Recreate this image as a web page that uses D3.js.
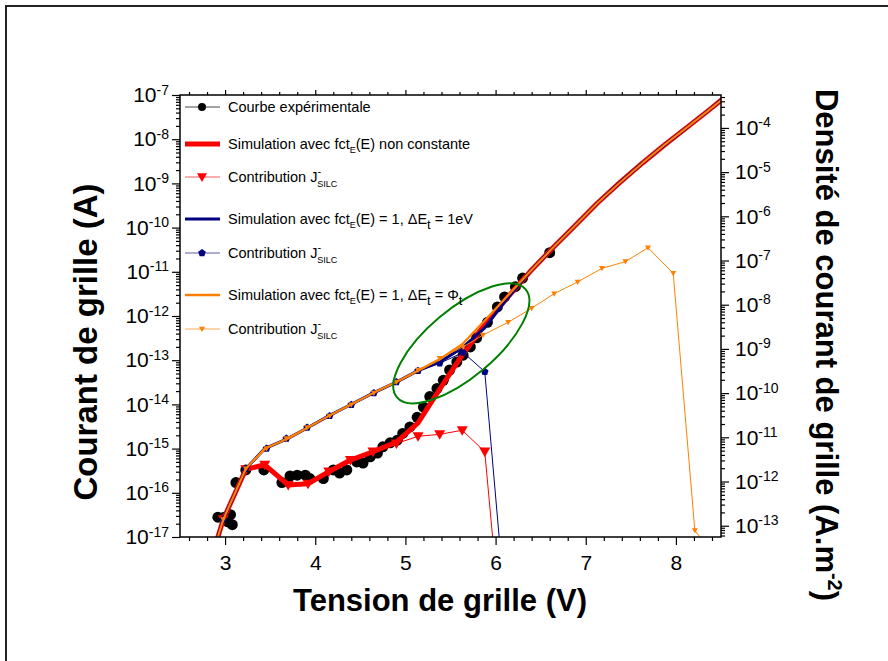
<!DOCTYPE html>
<html>
<head>
<meta charset="utf-8">
<script src="https://cdn.jsdelivr.net/npm/d3@7"></script>
<style>
    body { margin: 0; background: #fff; }
    text { font-family: "Liberation Sans", Arial, sans-serif; fill: #000; }
</style>
</head>
<body>
<svg id="chart" width="888" height="661"></svg>
<script>
// ---- data (V, A) ----
var voltsExp = [2.92, 2.99, 3.03, 3.06, 3.08, 3.12, 3.23, 3.43, 3.63, 3.72, 3.80, 3.89, 3.94, 4.09, 4.20, 4.27,
    4.35, 4.46, 4.53, 4.61, 4.69, 4.75, 4.83, 4.91, 4.97, 5.05, 5.13, 5.20, 5.27, 5.35, 5.42, 5.49, 5.57, 5.64,
    5.72, 5.79, 5.91, 6.02, 6.10, 6.22, 6.30, 6.60]
var currentExp = [2.8e-17, 2.8e-17, 2.2e-17, 3.2e-17, 1.9e-17, 1.7e-16, 3.3e-16, 3.3e-16, 1.7e-16, 2.4e-16, 2.5e-16,
    2.5e-16, 2.1e-16, 2.1e-16, 3.3e-16, 2.8e-16, 3.3e-16, 5.0e-16, 4.7e-16, 6.5e-16, 7.9e-16, 1.1e-15, 1.35e-15,
    1.55e-15, 2.2e-15, 3.1e-15, 5.1e-15, 8.7e-15, 1.5e-14, 2.3e-14, 3.5e-14, 6.0e-14, 9.1e-14, 1.3e-13, 2.0e-13,
    3.2e-13, 7.2e-13, 1.6e-12, 2.7e-12, 4.6e-12, 7.2e-12, 2.7e-11]

var voltsSim = [2.74, 2.98, 3.23, 3.44, 3.70, 3.92, 4.15, 4.39, 4.64, 4.90, 5.14, 5.38, 5.63, 5.88, 6.13, 6.38,
    6.63, 6.88, 7.13, 7.38, 7.63, 7.88, 8.13, 8.38, 8.62]
var currentSimRed = [6.3e-19, 2.5e-17, 3.4e-16, 4.3e-16, 1.5e-16, 1.6e-16, 3.0e-16, 5.5e-16, 8.5e-16, 1.4e-15,
    3.8e-15, 2.2e-14, 1.3e-13, 6.5e-13, 2.6e-12, 1.0e-11, 3.4e-11, 1.1e-10, 3.6e-10, 1.05e-9, 2.9e-9, 7.6e-9,
    1.9e-8, 4.8e-8, 1.2e-7]
var currentSimBlue = [6.3e-19, 2.5e-17, 3.5e-16, 1.0e-15, 1.7e-15, 3.0e-15, 5.5e-15, 9.8e-15, 1.8e-14, 3.2e-14,
    5.8e-14, 9.1e-14, 1.9e-13, 5.4e-13, 2.5e-12, 1.0e-11, 3.4e-11, 1.1e-10, 3.6e-10, 1.05e-9, 2.9e-9, 7.6e-9,
    1.9e-8, 4.8e-8, 1.2e-7]
var currentSimOrange = [6.3e-19, 2.5e-17, 3.5e-16, 1.0e-15, 1.7e-15, 3.0e-15, 5.5e-15, 9.8e-15, 1.8e-14, 3.2e-14,
    5.8e-14, 1.05e-13, 2.3e-13, 7.9e-13, 2.8e-12, 1.0e-11, 3.4e-11, 1.1e-10, 3.6e-10, 1.05e-9, 2.9e-9, 7.6e-9,
    1.9e-8, 4.8e-8, 1.2e-7]

var voltsContRed = [2.74, 2.98, 3.23, 3.44, 3.70, 3.92, 4.15, 4.39, 4.64, 4.90, 5.14, 5.38, 5.63, 5.88, 6.12]
var currentContRed = [6.3e-19, 2.5e-17, 3.4e-16, 4.3e-16, 1.5e-16, 1.6e-16, 3.0e-16, 5.5e-16, 8.5e-16, 1.3e-15,
    1.9e-15, 2.1e-15, 2.6e-15, 8.5e-16, 4e-21]

var voltsContBlue = [2.74, 2.98, 3.23, 3.46, 3.68, 3.91, 4.16, 4.40, 4.65, 4.90, 5.14, 5.38, 5.64, 5.88, 6.12]
var currentContBlue = [6.3e-19, 2.5e-17, 3.5e-16, 1.0e-15, 1.7e-15, 3.0e-15, 5.5e-15, 9.8e-15, 1.8e-14, 3.2e-14,
    5.8e-14, 8.5e-14, 1.5e-13, 5.5e-14, 1.3e-19]

var voltsContOrange = [2.74, 2.98, 3.23, 3.46, 3.68, 3.91, 4.16, 4.40, 4.65, 4.90, 5.14, 5.38, 5.64, 5.86, 6.14,
    6.40, 6.65, 6.91, 7.18, 7.44, 7.69, 7.97, 8.21, 8.45]
var currentContOrange = [6.3e-19, 2.5e-17, 3.5e-16, 1.0e-15, 1.7e-15, 3.0e-15, 5.5e-15, 9.8e-15, 1.8e-14, 3.2e-14,
    6.0e-14, 1.1e-13, 2.0e-13, 3.7e-13, 7.2e-13, 1.5e-12, 3.2e-12, 5.9e-12, 1.2e-11, 1.7e-11, 3.5e-11, 9.3e-12,
    1.4e-17, 3.3e-18]

// axes
var xTicks = [3, 4, 5, 6, 7, 8]
var yLeftExponents = [-17, -16, -15, -14, -13, -12, -11, -10, -9, -8, -7]
var yRightExponents = [-13, -12, -11, -10, -9, -8, -7, -6, -5, -4]
var deviceArea = 1.8e-4   // A -> A.m-2 for the right axis

// annotation ellipse centre (V, A)
var ellipseCentre = [5.62, 2.4e-13]

var legendLabels = [
    "Courbe expérimentale",
    "Simulation avec fct_E(E) non constante",
    "Contribution J-_SILC",
    "Simulation avec fct_E(E) = 1, ΔE_t = 1eV",
    "Contribution J-_SILC",
    "Simulation avec fct_E(E) = 1, ΔE_t = Φ_t",
    "Contribution J-_SILC"
]

var plot = { left: 180, right: 721, top: 95, bottom: 537 }

var svg = d3.select("#chart")

// outer frame (runs off the page on the right and bottom)
svg.append("rect")
    .attr("x", 6).attr("y", 6)
    .attr("width", 900).attr("height", 700)
    .attr("fill", "none")
    .attr("stroke", "#222")
    .attr("stroke-width", 2)

var x = d3.scaleLinear().domain([2.5, 8.5]).range([plot.left, plot.right])
var y = d3.scaleLog().domain([1e-17, 1e-7]).range([plot.bottom, plot.top])
var yRight = d3.scaleLog().domain([1e-17 / deviceArea, 1e-7 / deviceArea]).range([plot.bottom, plot.top])

function zip(xs, ys) {
    return xs.map(function (v, i) { return [v, ys[i]] })
}

function minorLog(scale) {
    var d = scale.domain()
    var out = []
    var lo = Math.floor(Math.log10(d[0])), hi = Math.ceil(Math.log10(d[1]))
    for (var e = lo; e <= hi; e++) {
        for (var k = 2; k <= 9; k++) {
            var v = k * Math.pow(10, e)
            if (v > d[0] && v < d[1]) out.push(v)
        }
    }
    return out
}

function powerLabel(sel) {
    sel.each(function (d) {
        var t = d3.select(this).text("")
        t.append("tspan").text("10")
        t.append("tspan")
            .attr("dy", "-0.55em")
            .style("font-size", "14px")
            .text(Math.round(Math.log10(d)))
    })
}

var xMinor = d3.range(2.6, 8.5, 0.2).filter(function (v) {
    return Math.abs(v - Math.round(v)) > 0.05
})

// ---- axes ----
svg.append("g")
    .attr("transform", "translate(0," + plot.bottom + ")")
    .call(d3.axisBottom(x).tickValues(xMinor).tickSize(4).tickFormat(""))
    .call(function (g) { g.select(".domain").remove() })

svg.append("g")
    .attr("transform", "translate(0," + plot.bottom + ")")
    .call(d3.axisBottom(x).tickValues(xTicks).tickSize(8).tickPadding(10).tickFormat(d3.format("d")))
    .call(function (g) { g.select(".domain").remove() })
    .selectAll("text")
    .style("font-size", "21px")
    .style("font-family", "Liberation Sans, Arial, sans-serif")

svg.append("g")
    .attr("transform", "translate(0," + plot.top + ")")
    .call(d3.axisTop(x).tickValues(xMinor).tickSize(3).tickFormat(""))
    .call(function (g) { g.select(".domain").remove() })

svg.append("g")
    .attr("transform", "translate(0," + plot.top + ")")
    .call(d3.axisTop(x).tickValues(xTicks).tickSize(5).tickFormat(""))
    .call(function (g) { g.select(".domain").remove() })

svg.append("g")
    .attr("transform", "translate(" + plot.left + ",0)")
    .call(d3.axisLeft(y).tickValues(minorLog(y)).tickSize(4).tickFormat(""))
    .call(function (g) { g.select(".domain").remove() })

svg.append("g")
    .attr("transform", "translate(" + plot.left + ",0)")
    .call(d3.axisLeft(y).tickValues(yLeftExponents.map(function (e) { return Math.pow(10, e) }))
        .tickSize(8).tickPadding(3))
    .call(function (g) { g.select(".domain").remove() })
    .selectAll("text")
    .style("font-size", "21px")
    .style("font-family", "Liberation Sans, Arial, sans-serif")
    .call(powerLabel)

svg.append("g")
    .attr("transform", "translate(" + plot.right + ",0)")
    .call(d3.axisRight(yRight).tickValues(minorLog(yRight)).tickSize(4).tickFormat(""))
    .call(function (g) { g.select(".domain").remove() })

svg.append("g")
    .attr("transform", "translate(" + plot.right + ",0)")
    .call(d3.axisRight(yRight).tickValues(yRightExponents.map(function (e) { return Math.pow(10, e) }))
        .tickSize(8).tickPadding(6))
    .call(function (g) { g.select(".domain").remove() })
    .selectAll("text")
    .style("font-size", "21px")
    .style("font-family", "Liberation Sans, Arial, sans-serif")
    .call(powerLabel)

svg.selectAll(".tick line").attr("stroke", "#000").attr("stroke-width", 1.2)

// ---- plot area ----
svg.append("clipPath").attr("id", "clip")
    .append("rect")
    .attr("x", plot.left).attr("y", plot.top)
    .attr("width", plot.right - plot.left).attr("height", plot.bottom - plot.top)

var area = svg.append("g").attr("clip-path", "url(#clip)")

var line = d3.line()
    .x(function (d) { return x(d[0]) })
    .y(function (d) { return y(d[1]) })

var trianglePath = function (s) {
    return "M" + (-s) + "," + (-s * 0.75) + "L" + s + "," + (-s * 0.75) + "L0," + (s * 1.0) + "Z"
}
var pentagonPath = function (r) {
    var pts = d3.range(5).map(function (i) {
        var a = -Math.PI / 2 + i * 2 * Math.PI / 5
        return [r * Math.cos(a), r * Math.sin(a)]
    })
    return "M" + pts.join("L") + "Z"
}

// experimental points
area.selectAll("circle.exp")
    .data(zip(voltsExp, currentExp))
    .enter()
    .append("circle")
    .attr("class", "exp")
    .attr("cx", function (d) { return x(d[0]) })
    .attr("cy", function (d) { return y(d[1]) })
    .attr("r", 5.5)
    .attr("fill", "#000")

function drawSeries(xs, ys, color, width, marker) {
    var data = zip(xs, ys)
    area.append("path")
        .attr("d", line(data))
        .attr("fill", "none")
        .attr("stroke", color)
        .attr("stroke-width", width)
        .attr("stroke-linejoin", "round")
    if (marker) {
        area.selectAll(null)
            .data(data)
            .enter()
            .append("path")
            .attr("transform", function (d) { return "translate(" + x(d[0]) + "," + y(d[1]) + ")" })
            .attr("d", marker)
            .attr("fill", color)
    }
}

drawSeries(voltsSim, currentSimRed, "#ff0000", 5)
drawSeries(voltsContRed, currentContRed, "#ff0000", 1, trianglePath(5.5))
drawSeries(voltsSim, currentSimBlue, "#000080", 3)
drawSeries(voltsContBlue, currentContBlue, "#000080", 1, pentagonPath(4))
drawSeries(voltsSim, currentSimOrange, "#ff8000", 2.2)
drawSeries(voltsContOrange, currentContOrange, "#ff8000", 1, trianglePath(3))

// green ellipse annotation
area.append("ellipse")
    .attr("transform", "translate(" + x(ellipseCentre[0]) + "," + y(ellipseCentre[1]) + ") rotate(-40)")
    .attr("rx", 84).attr("ry", 34)
    .attr("fill", "none")
    .attr("stroke", "#008000")
    .attr("stroke-width", 2)

// plot frame
svg.append("rect")
    .attr("x", plot.left).attr("y", plot.top)
    .attr("width", plot.right - plot.left).attr("height", plot.bottom - plot.top)
    .attr("fill", "none")
    .attr("stroke", "#000")
    .attr("stroke-width", 1.5)

// ---- legend ----
var legendRows = [107, 144, 177, 219, 253, 295, 329]
var legendStyle = [
    { color: "#444", width: 1, marker: "circle", fill: "#000" },
    { color: "#ff0000", width: 5 },
    { color: "#ff5a5a", width: 1, marker: trianglePath(5), fill: "#ff0000" },
    { color: "#000080", width: 3 },
    { color: "#5a5aa8", width: 1, marker: pentagonPath(4), fill: "#000080" },
    { color: "#ff8000", width: 2.5 },
    { color: "#ffa850", width: 1, marker: trianglePath(3), fill: "#ff8000" }
]

var legend = svg.append("g")

legendLabels.forEach(function (label, i) {
    var ly = legendRows[i]
    var st = legendStyle[i]
    legend.append("line")
        .attr("x1", 185).attr("x2", 220)
        .attr("y1", ly).attr("y2", ly)
        .attr("stroke", st.color)
        .attr("stroke-width", st.width)
    if (st.marker === "circle") {
        legend.append("circle").attr("cx", 202).attr("cy", ly).attr("r", 4).attr("fill", st.fill)
    } else if (st.marker) {
        legend.append("path")
            .attr("transform", "translate(202," + ly + ")")
            .attr("d", st.marker)
            .attr("fill", st.fill)
    }

    var t = legend.append("text")
        .attr("x", 228).attr("y", ly + 5)
        .style("font-size", "14.5px")

    // pending vertical offset, applied to the next piece of normal text
    var back = 0
    function plain(s) {
        if (!s.length) return
        t.append("tspan").attr("dy", back).text(s)
        back = 0
    }

    var parts = label.split(/(J-_SILC|fct_E|ΔE_t|Φ_t)/)
    parts.forEach(function (p) {
        if (p === "J-_SILC") {
            plain("J")
            t.append("tspan").attr("dy", -7).style("font-size", "11px").text("-")
            t.append("tspan").attr("dx", -4).attr("dy", 12).style("font-size", "9px").text("SILC")
            back = -5
        } else if (p === "fct_E") {
            plain("fct")
            t.append("tspan").attr("dy", 4).style("font-size", "9px").text("E")
            back = -4
        } else if (p === "ΔE_t" || p === "Φ_t") {
            plain(p === "ΔE_t" ? "ΔE" : "Φ")
            t.append("tspan").attr("dy", 5).style("font-size", "13px").text("t")
            back = -5
        } else {
            plain(p)
        }
    })
})

// ---- axis titles ----
svg.append("text")
    .attr("x", 440).attr("y", 611)
    .attr("text-anchor", "middle")
    .style("font-size", "31px")
    .style("font-weight", "bold")
    .text("Tension de grille (V)")

svg.append("text")
    .attr("transform", "translate(97,342) rotate(-90)")
    .attr("text-anchor", "middle")
    .style("font-size", "33px")
    .style("font-weight", "bold")
    .text("Courant de grille (A)")

var rt = svg.append("text")
    .attr("transform", "translate(816,345) rotate(90)")
    .attr("text-anchor", "middle")
    .style("font-size", "31px")
    .style("font-weight", "bold")
rt.append("tspan").text("Densité de courant de grille (A.m")
rt.append("tspan").attr("dy", -12).style("font-size", "20px").text("-2")
rt.append("tspan").attr("dy", 12).text(")")
</script>
</body>
</html>
